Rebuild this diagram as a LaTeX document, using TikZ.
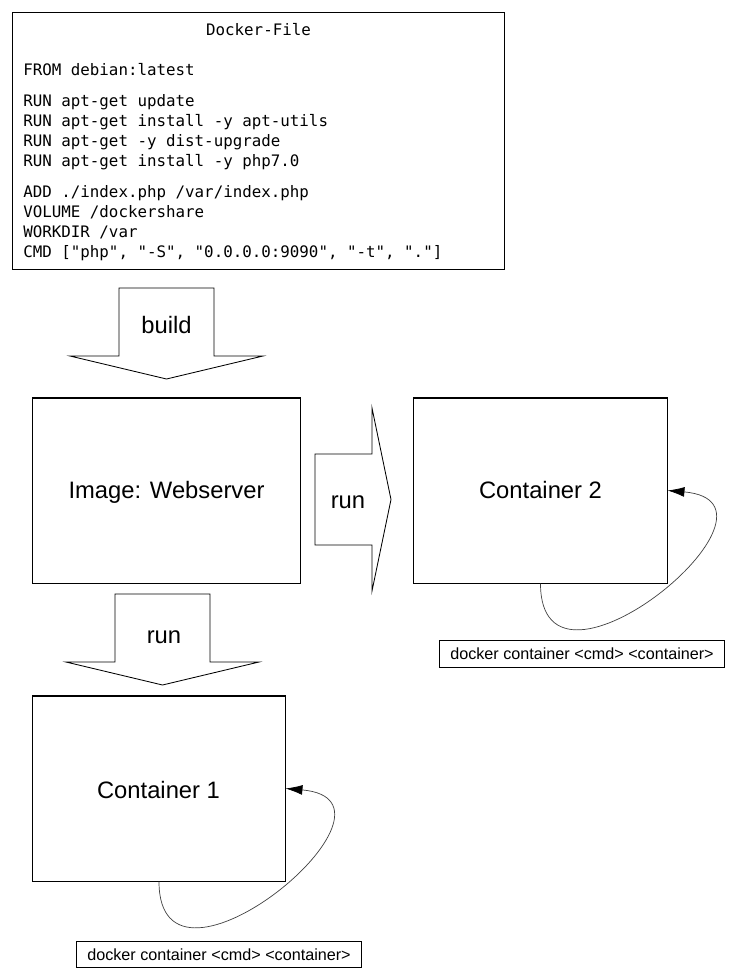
\documentclass[tikz,border=0pt]{standalone}
\usepackage{fontspec}
\setmainfont{Liberation Sans}
\setmonofont{DejaVu Sans Mono}
\usetikzlibrary{arrows.meta}

\begin{document}
\begin{tikzpicture}[
x=0.025cm, y=-0.025cm,
box/.style={rectangle, draw=black, line width=0.75pt, fill=white},
boxtext/.style={font=\fontsize{16.9}{20}\selectfont, inner sep=0pt, anchor=base},
codetext/.style={font=\ttfamily\fontsize{11.25}{14.23}\selectfont, inner sep=0pt},
cmdbox/.style={rectangle, draw=black, line width=0.75pt, minimum width=7.1cm, minimum height=0.66cm, inner sep=0pt, font=\fontsize{11.5}{13}\selectfont},
blockarrow/.style={draw=black, line width=0.6pt, fill=white, line join=miter},
restart/.style={draw=black!75, line width=0.5pt, -{Latex[length=12pt,width=7pt,color=black]}}
]
\useasboundingbox (0,0) rectangle (732,980);

% the docker file
\node[box, minimum width=12.275cm, minimum height=6.4cm](dockerfile) at (258.5,141){};
\node[codetext, anchor=base](dftitle) at (258.5,35.3){Docker-File};
\node[codetext, anchor=north west, align=left](dfcode) at (23,63){FROM debian:latest\\[7.8pt]
RUN apt-get update\\
RUN apt-get install -y apt-utils\\
RUN apt-get -y dist-upgrade\\
RUN apt-get install -y php7.0\\[7.8pt]
ADD ./index.php /var/index.php\\
VOLUME /dockershare\\
WORKDIR /var\\
CMD ["php", "-S", "0.0.0.0:9090", "-t", "."]};

% build arrow
\draw[blockarrow] (119,288) -- (214,288) -- (214,356) -- (263,356) -- (166.5,379) -- (70,356) -- (119,356) -- cycle;
\node[boxtext](build) at (166.5,333.7){build};

% image and containers
\node[box, minimum width=6.675cm, minimum height=4.625cm](image) at (166.5,490.5){};
\node[boxtext](image_txt) at (166.5,498){Image: Webserver};

\node[box, minimum width=6.325cm, minimum height=4.625cm](cont2) at (540.5,490.5){};
\node[boxtext](cont2_txt) at (540.5,498){Container 2};

\node[box, minimum width=6.3cm, minimum height=4.625cm](cont1) at (159,788.5){};
\node[boxtext](cont1_txt) at (158.5,798){Container 1};

% run arrows
\draw[blockarrow] (315,454) -- (372,454) -- (372,408) -- (391,499.5) -- (372,591) -- (372,545) -- (315,545) -- cycle;
\node[boxtext](run_right) at (348,508){run};

\draw[blockarrow] (115,594) -- (210,594) -- (210,662) -- (259,662) -- (162.5,685) -- (66,662) -- (115,662) -- cycle;
\node[boxtext](run_down) at (164,643){run};

% restart loops
\node[cmdbox](cmd2) at (582,654){docker container <cmd> <container>};
\node[cmdbox](cmd1) at (219,954.5){docker container <cmd> <container>};

\draw[restart] (cont2.south) .. controls +(0,140) and +(140,12) .. (cont2.east);
\draw[restart] (cont1.south) .. controls +(0,140) and +(140,12) .. (cont1.east);
\end{tikzpicture}
\end{document}
